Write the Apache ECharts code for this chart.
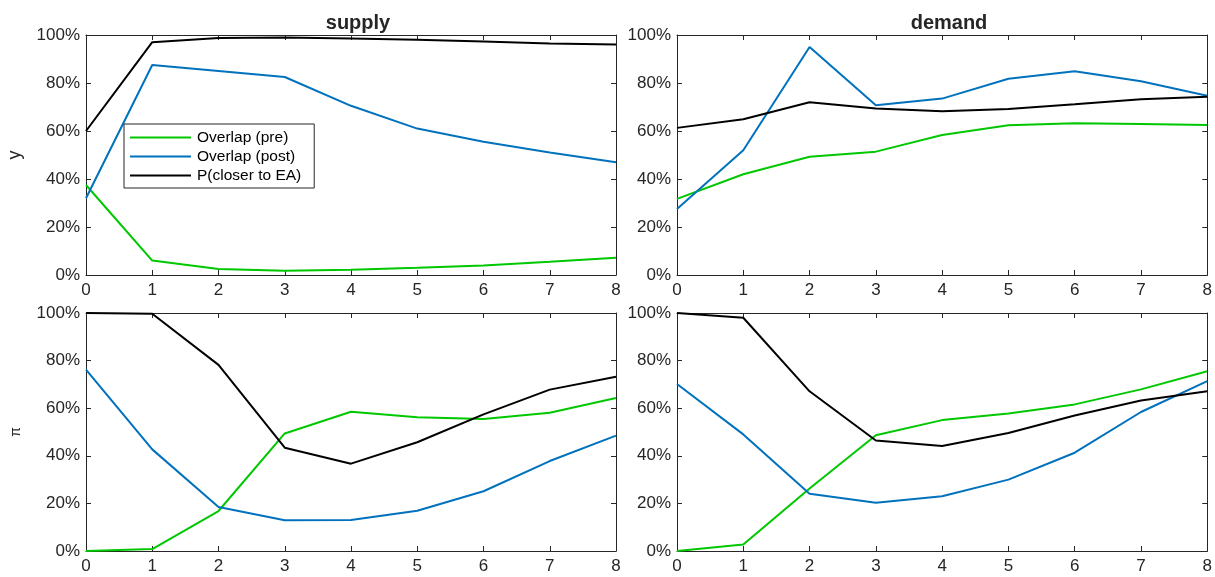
<!DOCTYPE html>
<html>
<head>
<meta charset="utf-8">
<script src="https://cdn.jsdelivr.net/npm/echarts@6/dist/echarts.min.js"></script>
<style>html,body{margin:0;padding:0;background:#fff}#c{width:1215px;height:577px}</style>
</head>
<body>
<div id="c"></div>
<script>
const horizons = [0, 1, 2, 3, 4, 5, 6, 7, 8];
const panelTitles = ['supply', 'demand'];
const rowLabels = ['y', 'π'];
const seriesNames = ['Overlap (pre)', 'Overlap (post)', 'P(closer to EA)'];

// supply, y
const supplyY_pre  = [37.5, 6.0, 2.5, 1.8, 2.2, 3.0, 4.0, 5.5, 7.2];
const supplyY_post = [32.0, 87.5, 85.0, 82.5, 70.5, 61.0, 55.5, 51.0, 47.0];
const supplyY_prob = [60.0, 97.0, 98.8, 99.0, 98.5, 98.0, 97.3, 96.5, 96.0];
// demand, y
const demandY_pre  = [31.7, 42.0, 49.3, 51.4, 58.3, 62.4, 63.2, 62.9, 62.5];
const demandY_post = [27.5, 52.0, 95.0, 70.7, 73.5, 81.8, 84.9, 80.7, 74.7];
const demandY_prob = [61.3, 64.9, 72.0, 69.4, 68.2, 69.2, 71.1, 73.2, 74.3];
// supply, pi
const supplyPi_pre  = [0.0, 0.8, 16.8, 49.4, 58.5, 56.2, 55.5, 58.1, 64.3];
const supplyPi_post = [76.2, 42.7, 18.5, 12.9, 13.0, 16.9, 25.1, 37.8, 48.5];
const supplyPi_prob = [100.0, 99.7, 78.2, 43.4, 36.7, 45.7, 57.4, 67.8, 73.2];
// demand, pi
const demandPi_pre  = [0.0, 2.7, 26.3, 48.6, 55.0, 57.8, 61.6, 67.9, 75.5];
const demandPi_post = [70.2, 49.0, 24.1, 20.3, 23.0, 30.0, 41.3, 58.4, 71.4];
const demandPi_prob = [100.0, 98.0, 67.1, 46.4, 44.1, 49.6, 56.9, 63.2, 67.1];

const panels = [
  [supplyY_pre, supplyY_post, supplyY_prob],
  [demandY_pre, demandY_post, demandY_prob],
  [supplyPi_pre, supplyPi_post, supplyPi_prob],
  [demandPi_pre, demandPi_post, demandPi_prob]
];
const colors = ['#00c800', '#0072bd', '#000000'];
const FONT = 'Liberation Sans';
const AX = '#262626';

const grids = [
  {left: 86, top: 35, width: 530, height: 240},
  {left: 677, top: 35, width: 533, height: 240},
  {left: 86, top: 313, width: 530, height: 238},
  {left: 677, top: 313, width: 533, height: 238}
];

const xAxes = [], yAxes = [], series = [];
grids.forEach((g, i) => {
  const common = {
    gridIndex: i, type: 'value', min: 0, max: 8, interval: 1,
    axisLine: {show: true, onZero: false, lineStyle: {color: AX, width: 1}},
    axisTick: {show: true, inside: true, length: 5, lineStyle: {color: AX}},
    splitLine: {show: false}
  };
  xAxes.push(Object.assign({}, common, {
    position: 'bottom',
    axisLabel: {show: true, color: AX, fontSize: 17, fontFamily: FONT, margin: 7}
  }));
  xAxes.push(Object.assign({}, common, {position: 'top', axisLabel: {show: false}}));
  const ycommon = {
    gridIndex: i, type: 'value', min: 0, max: 100, interval: 20,
    axisLine: {show: true, onZero: false, lineStyle: {color: AX, width: 1}},
    axisTick: {show: true, inside: true, length: 5, lineStyle: {color: AX}},
    splitLine: {show: false}
  };
  const yl = Object.assign({}, ycommon, {
    position: 'left',
    axisLabel: {show: true, color: AX, fontSize: 17, fontFamily: FONT, margin: 6, formatter: '{value}%'}
  });
  if (i % 2 === 0) {
    const r = i / 2;
    yl.name = rowLabels[r];
    yl.nameLocation = 'middle';
    yl.nameRotate = 90;
    yl.nameGap = r === 0 ? 62 : 63;
    yl.nameTextStyle = {color: AX, fontSize: r === 0 ? 18 : 14, fontFamily: FONT};
  }
  yAxes.push(yl);
  yAxes.push(Object.assign({}, ycommon, {position: 'right', axisLabel: {show: false}}));

  panels[i].forEach((vals, k) => {
    series.push({
      name: seriesNames[k], type: 'line',
      xAxisIndex: 2 * i, yAxisIndex: 2 * i,
      data: horizons.map((h, j) => [h, vals[j]]),
      symbol: 'none', smooth: false, silent: true,
      lineStyle: {color: colors[k], width: 2},
      itemStyle: {color: colors[k]},
      z: 2 + (k === 1 ? 1 : k === 2 ? 2 : 0)
    });
  });
});

const chart = echarts.init(document.getElementById('c'), null, {renderer: 'canvas'});
chart.setOption({
  animation: false,
  backgroundColor: '#fff',
  title: [
    {text: panelTitles[0], left: 353, top: 8, textAlign: 'center',
     textStyle: {fontSize: 20, fontWeight: 'bold', color: AX, fontFamily: FONT}},
    {text: panelTitles[1], left: 944, top: 8, textAlign: 'center',
     textStyle: {fontSize: 20, fontWeight: 'bold', color: AX, fontFamily: FONT}}
  ],
  grid: grids,
  xAxis: xAxes,
  yAxis: yAxes,
  legend: {
    data: seriesNames,
    orient: 'vertical',
    left: 124, top: 124,
    width: 191,
    padding: [4, 13, 3, 6],
    itemGap: 0,
    itemWidth: 61, itemHeight: 2,
    icon: 'rect',
    backgroundColor: '#fff',
    borderColor: AX, borderWidth: 1,
    textStyle: {color: '#000', fontSize: 15.5, fontFamily: FONT, lineHeight: 19, padding: [0, 0, 0, 1]},
    selectedMode: false
  },
  series: series
});
</script>
</body>
</html>
